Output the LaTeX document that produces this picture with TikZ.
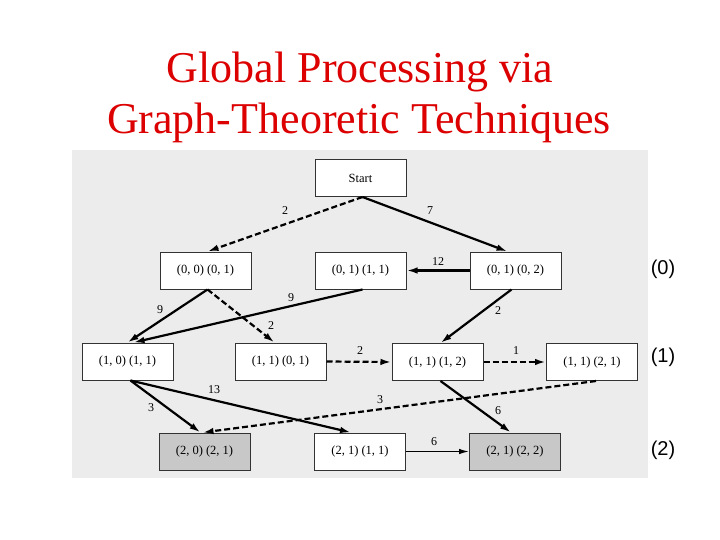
\documentclass[tikz,border=0pt]{standalone}
\usepackage{fontspec}
\setmainfont{Liberation Serif}
\newfontfamily\arialfont{Liberation Sans}
\usetikzlibrary{arrows.meta}
\definecolor{titlered}{RGB}{220,0,0}
\definecolor{scanbg}{RGB}{236,236,236}
\definecolor{shade}{RGB}{200,200,200}
\begin{document}
\begin{tikzpicture}[x=1pt,y=-1pt,
  box/.style={draw=black!80,line width=1pt,fill=white,minimum width=91pt,minimum height=37pt,inner sep=0pt,font=\fontsize{12.5}{13}\selectfont},
  dark/.style={box,fill=shade},
  sol/.style={line width=2.2pt,-{Latex[length=11pt,width=6.5pt]}},
  dsh/.style={sol,dash pattern=on 6pt off 3pt},
  thin/.style={line width=1.2pt,-{Latex[length=10pt,width=5.5pt]}},
  lab/.style={font=\fontsize{12}{13}\selectfont,inner sep=1pt},
  ttl/.style={text=titlered,font=\fontsize{44}{51}\selectfont,anchor=base,inner sep=0pt},
  lvl/.style={font=\arialfont\fontsize{20}{22}\selectfont,inner sep=0pt}]
\useasboundingbox (0,0) rectangle (720,540);
\fill[white] (0,0) rectangle (720,540);
\fill[scanbg] (72,150) rectangle (648,478);
\node[ttl] (title1) at (360,83) {Global Processing via};
\node[ttl] (title2) at (359,134) {Graph-Theoretic Techniques};
% nodes
\node[box] (st) at (360.5,178) {Start};
\node[box] (a1) at (205.5,270.5) {(0, 0) (0, 1)};
\node[box] (a2) at (360.5,270.5) {(0, 1) (1, 1)};
\node[box] (a3) at (515.5,270.5) {(0, 1) (0, 2)};
\node[box] (b1) at (127.5,361.5) {(1, 0) (1, 1)};
\node[box] (b2) at (280.5,361.5) {(1, 1) (0, 1)};
\node[box] (b3) at (437.5,362) {(1, 1) (1, 2)};
\node[box] (b4) at (592,362) {(1, 1) (2, 1)};
\node[dark] (c1) at (204.5,451.5) {(2, 0) (2, 1)};
\node[box] (c2) at (360,451.5) {(2, 1) (1, 1)};
\node[dark] (c3) at (515,451.5) {(2, 1) (2, 2)};
% level labels
\node[lvl] (l0) at (663,269) {(0)};
\node[lvl] (l1) at (663,357) {(1)};
\node[lvl] (l2) at (663,450) {(2)};
% edges
\draw[dsh] ([xshift=2pt]st.south) -- ([xshift=2pt]a1.north);
\draw[sol] ([xshift=2pt]st.south) -- ([xshift=-8pt]a3.north);
\draw[sol] (a3.west) -- (a2.east);
\draw[sol] ([xshift=2pt]a1.south) -- ([xshift=0pt]b1.north);
\draw[sol] ([xshift=2pt]a2.south) -- ([xshift=6pt]b1.north);
\draw[dsh] ([xshift=2pt]a1.south) -- ([xshift=-6pt]b2.north);
\draw[sol] ([xshift=-4pt]a3.south) -- ([xshift=3pt]b3.north);
\draw[dsh] (b2.east) -- (b3.west);
\draw[dsh] (b3.east) -- (b4.west);
\draw[sol] ([xshift=3pt]b1.south) -- ([xshift=-4pt]c1.north);
\draw[sol] ([xshift=3pt]b1.south) -- ([xshift=-9pt]c2.north);
\draw[dsh] ([xshift=4pt]b4.south) -- ([xshift=-2pt]c1.north);
\draw[sol] ([xshift=3pt]b3.south) -- ([xshift=-4pt]c3.north);
\draw[thin] (c2.east) -- (c3.west);
% edge labels
\node[lab] (e1) at (285,211) {2};
\node[lab] (e2) at (430,211) {7};
\node[lab] (e3) at (438,262) {12};
\node[lab] (e4) at (160,310) {9};
\node[lab] (e5) at (291,298) {9};
\node[lab] (e6) at (271,326) {2};
\node[lab] (e7) at (498,311) {2};
\node[lab] (e8) at (360,351) {2};
\node[lab] (e9) at (516,351) {1};
\node[lab] (e10) at (151,408) {3};
\node[lab] (e11) at (214,390) {13};
\node[lab] (e12) at (380,400) {3};
\node[lab] (e13) at (498,411) {6};
\node[lab] (e14) at (434,442) {6};
\end{tikzpicture}
\end{document}
